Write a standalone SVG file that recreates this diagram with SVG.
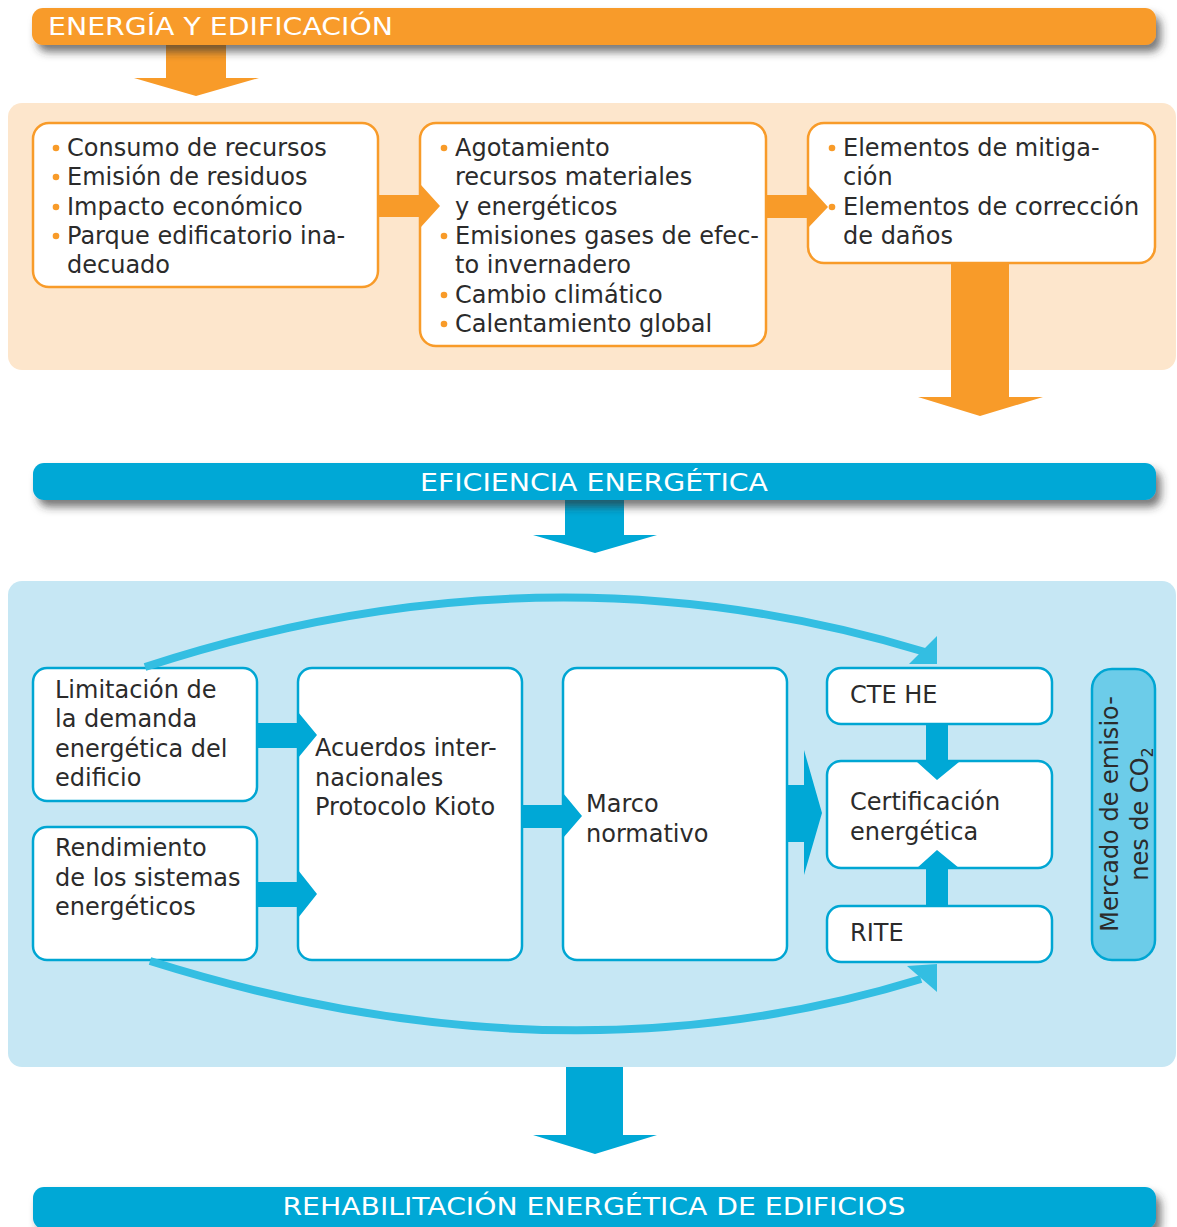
<svg xmlns="http://www.w3.org/2000/svg" width="1177" height="1227" viewBox="0 0 1177 1227">
<defs>
<filter id="sh" x="-5%" y="-50%" width="110%" height="250%">
<feDropShadow dx="5" dy="7" stdDeviation="4" flood-color="#333" flood-opacity="0.65"/>
</filter>
<style>
.t{font-family:"DejaVu Sans",sans-serif;font-size:24px;fill:#2b2b2b}
.h{font-family:"DejaVu Sans",sans-serif;font-size:25px;fill:#fff}
.ob{fill:#fff;stroke:#F89B29;stroke-width:2.5}
.bb{fill:#fff;stroke:#00A6D3;stroke-width:2.5}
.or{fill:#F89B29}
.bl{fill:#00A8D6}
.cv{fill:none;stroke:#33BEE2;stroke-width:8}
.ch{fill:#33BEE2}
.dot{fill:#F89B29}
</style>
</defs>
<rect width="1177" height="1227" fill="#fff"/>

<!-- backgrounds -->
<rect x="8" y="103" width="1168" height="267" rx="14" fill="#FDE6CC"/>
<rect x="8" y="581" width="1168" height="486" rx="14" fill="#C6E7F4"/>

<g id="box-consumo">
<rect class="ob" x="33" y="123" width="345" height="164" rx="16"/>
<circle class="dot" cx="56" cy="148" r="3.3"/>
<circle class="dot" cx="56" cy="177" r="3.3"/>
<circle class="dot" cx="56" cy="207" r="3.3"/>
<circle class="dot" cx="56" cy="236" r="3.3"/>
<text class="t" x="67" y="156">Consumo de recursos</text>
<text class="t" x="67" y="185">Emisión de residuos</text>
<text class="t" x="67" y="215">Impacto económico</text>
<text class="t" x="67" y="244">Parque edificatorio ina-</text>
<text class="t" x="67" y="273">decuado</text>
</g>

<g id="box-agotamiento">
<rect class="ob" x="420" y="123" width="346" height="223" rx="16"/>
<circle class="dot" cx="444" cy="148" r="3.3"/>
<circle class="dot" cx="444" cy="236" r="3.3"/>
<circle class="dot" cx="444" cy="295" r="3.3"/>
<circle class="dot" cx="444" cy="324" r="3.3"/>
<text class="t" x="455" y="156">Agotamiento</text>
<text class="t" x="455" y="185">recursos materiales</text>
<text class="t" x="455" y="215">y energéticos</text>
<text class="t" x="455" y="244">Emisiones gases de efec-</text>
<text class="t" x="455" y="273">to invernadero</text>
<text class="t" x="455" y="303">Cambio climático</text>
<text class="t" x="455" y="332">Calentamiento global</text>
</g>

<g id="box-elementos">
<rect class="ob" x="808" y="123" width="347" height="140" rx="16"/>
<circle class="dot" cx="832" cy="148" r="3.3"/>
<text class="t" x="843" y="156">Elementos de mitiga-</text>
<text class="t" x="843" y="185">ción</text>
<text class="t" x="843" y="215">Elementos de corrección</text>
<text class="t" x="843" y="244">de daños</text>
</g>

<g id="box-limitacion">
<rect class="bb" x="33" y="668" width="224" height="133" rx="14"/>
<text class="t" x="55" y="698">Limitación de</text>
<text class="t" x="55" y="727">la demanda</text>
<text class="t" x="55" y="757">energética del</text>
<text class="t" x="55" y="786">edificio</text>
</g>

<g id="box-rendimiento">
<rect class="bb" x="33" y="827" width="224" height="133" rx="14"/>
<text class="t" x="55" y="856">Rendimiento</text>
<text class="t" x="55" y="886">de los sistemas</text>
<text class="t" x="55" y="915">energéticos</text>
</g>

<g id="box-acuerdos">
<rect class="bb" x="298" y="668" width="224" height="292" rx="14"/>
<text class="t" x="315" y="756">Acuerdos inter-</text>
<text class="t" x="315" y="786">nacionales</text>
<text class="t" x="315" y="815">Protocolo Kioto</text>
</g>

<g id="box-marco">
<rect class="bb" x="563" y="668" width="224" height="292" rx="14"/>
<text class="t" x="586" y="812">Marco</text>
<text class="t" x="586" y="842">normativo</text>
</g>

<g id="box-cte">
<rect class="bb" x="827" y="668" width="225" height="56" rx="14"/>
<text class="t" x="850" y="703">CTE HE</text>
</g>

<g id="box-certificacion">
<rect class="bb" x="827" y="761" width="225" height="107" rx="14"/>
<text class="t" x="850" y="810">Certificación</text>
<text class="t" x="850" y="840">energética</text>
</g>

<g id="box-rite">
<rect class="bb" x="827" y="906" width="225" height="56" rx="14"/>
<text class="t" x="850" y="941">RITE</text>
</g>

<g id="box-mercado">
<rect x="1092" y="669" width="63" height="291" rx="20" fill="#6CCCE9" stroke="#00A6D3" stroke-width="2.5"/>
<g transform="translate(1118,814) rotate(-90)">
<text class="t" x="0" y="0" text-anchor="middle">Mercado de emisio-</text>
<text class="t" x="0" y="30" text-anchor="middle">nes de CO<tspan font-size="16" dy="5">2</tspan></text>
</g>
</g>

<g id="connectors">
<polygon class="or" points="166,40 226,40 226,78 259,78 196,96 134,78 166,78"/>
<polygon class="or" points="378,195 421,195 421,185 440,206 421,227 421,217 378,217"/>
<polygon class="or" points="766,195 808,195 808,185 828,207 808,228 808,218 766,218"/>
<circle class="dot" cx="832" cy="207" r="3.3"/>
<polygon class="or" points="951,264 1009,264 1009,397 1043,397 980,416 918,397 951,397"/>
<polygon class="bl" points="565,495 624,495 624,535 657,535 595,553 533,535 565,535"/>
<polygon class="bl" points="257,723 298,723 298,712 317,735 298,758 298,748 257,748"/>
<polygon class="bl" points="257,882 298,882 298,870 317,894 298,918 298,907 257,907"/>
<polygon class="bl" points="522,805 563,805 563,793 582,816 563,838 563,828 522,828"/>
<polygon class="bl" points="787,785 804,785 804,750 822,813 804,875 804,842 787,842"/>
<polygon class="bl" points="926,725 948,725 948,762 959,762 937,780 917,762 926,762"/>
<polygon class="bl" points="926,905 948,905 948,868 959,868 937,850 917,868 926,868"/>
<polygon class="bl" points="566,1067 623,1067 623,1135 657,1135 595,1154 533,1135 566,1135"/>
<path class="cv" d="M145,667 Q545,536 925,652"/>
<polygon class="ch" points="937,636 937,664 909,664"/>
<path class="cv" d="M150,961 Q560,1090 921,979"/>
<polygon class="ch" points="907,966 937,964 937,992"/>
</g>

<g id="banner-energia">
<rect x="32" y="8" width="1124" height="37" rx="11" class="or" filter="url(#sh)"/>
<text class="h" x="48" y="35" textLength="345" lengthAdjust="spacingAndGlyphs">ENERGÍA Y EDIFICACIÓN</text>
</g>

<g id="banner-eficiencia">
<rect x="33" y="463" width="1123" height="37" rx="11" class="bl" filter="url(#sh)"/>
<text class="h" x="594" y="491" text-anchor="middle" textLength="348" lengthAdjust="spacingAndGlyphs">EFICIENCIA ENERGÉTICA</text>
</g>

<g id="banner-rehabilitacion">
<rect x="33" y="1187" width="1123" height="42" rx="11" class="bl" filter="url(#sh)"/>
<text class="h" x="594" y="1215" text-anchor="middle" textLength="623" lengthAdjust="spacingAndGlyphs">REHABILITACIÓN ENERGÉTICA DE EDIFICIOS</text>
</g>
</svg>
